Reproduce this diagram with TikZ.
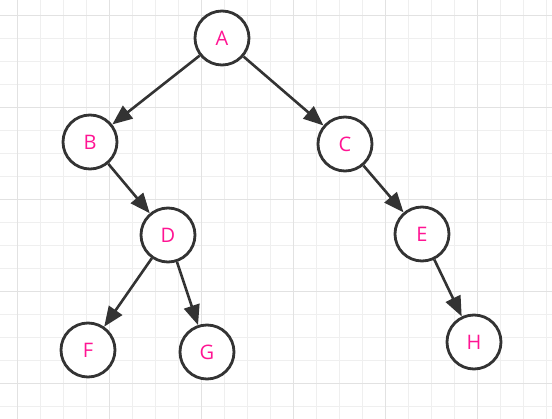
\documentclass[tikz,border=0pt]{standalone}
\usepackage{fontspec}
\setmainfont{Open Sans}
\usetikzlibrary{arrows.meta}
\definecolor{gridminor}{RGB}{239,239,239}
\definecolor{gridmajor}{RGB}{226,226,226}
\definecolor{edgegray}{RGB}{51,51,51}
\definecolor{labelpink}{RGB}{255,20,147}

\begin{document}
\begin{tikzpicture}[x=1pt, y=-1pt,
    vertex/.style={circle, draw=edgegray, line width=2.8pt, fill=white, minimum size=54pt, inner sep=0pt, text=labelpink, font=\fontsize{20}{20}\selectfont},
    edge/.style={edgegray, line width=2.6pt, -{Triangle[length=20pt, width=16pt]}}]
    \useasboundingbox (0,0) rectangle (552,419);
    \fill[white] (0,0) rectangle (552,419);

    % grid
    \foreach \k in {0,...,23}
        \draw[gridminor, line width=1pt] (17.7+23*\k,0) -- (17.7+23*\k,419);
    \foreach \k in {0,...,17}
        \draw[gridminor, line width=1pt] (0,15.3+23*\k) -- (552,15.3+23*\k);
    \foreach \k in {0,...,5}
        \draw[gridmajor, line width=1pt] (17.7+92*\k,0) -- (17.7+92*\k,419);
    \foreach \k in {0,...,4}
        \draw[gridmajor, line width=1pt] (0,15.3+92*\k) -- (552,15.3+92*\k);

    % nodes
    \node[vertex] (A) at (222,38) {A};
    \node[vertex] (B) at (90,142) {B};
    \node[vertex] (C) at (345,144) {C};
    \node[vertex] (D) at (168,235) {D};
    \node[vertex] (E) at (422,234) {E};
    \node[vertex] (F) at (88,350) {F};
    \node[vertex] (G) at (207,352) {G};
    \node[vertex] (H) at (474,342) {H};

    % edges
    \draw[edge] (A) -- (B);
    \draw[edge] (A) -- (C);
    \draw[edge] (B) -- (D);
    \draw[edge] (D) -- (F);
    \draw[edge] (D) -- (G);
    \draw[edge] (C) -- (E);
    \draw[edge] (E) -- (H);
\end{tikzpicture}
\end{document}
